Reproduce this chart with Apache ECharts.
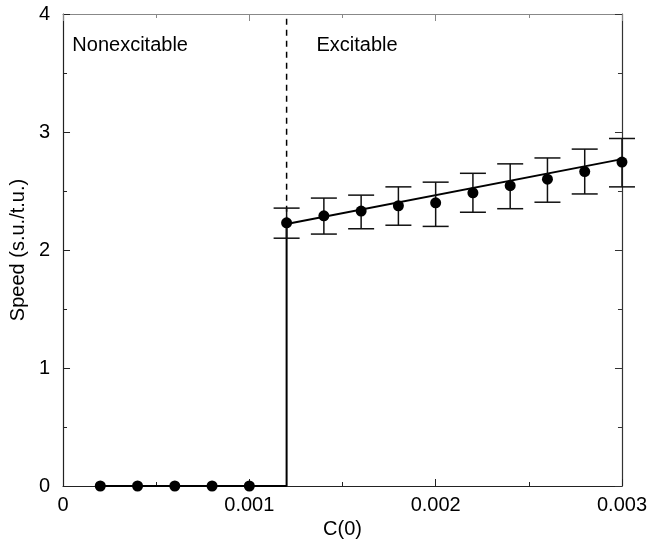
<!DOCTYPE html>
<html><head><meta charset="utf-8">
<script src="https://cdn.jsdelivr.net/npm/echarts@6/dist/echarts.min.js"></script>
<style>html,body{margin:0;padding:0;background:#fff}#c{width:650px;height:546px}</style>
</head><body><div id="c"></div>
<script>
// ---- data ----
const xNon = [0.0002, 0.0004, 0.0006, 0.0008, 0.0010];
const yNon = [0, 0, 0, 0, 0];
const xExc = [0.0012, 0.0014, 0.0016, 0.0018, 0.0020, 0.0022, 0.0024, 0.0026, 0.0028, 0.0030];
const yExc = [2.23, 2.29, 2.33, 2.375, 2.40, 2.485, 2.545, 2.60, 2.665, 2.745];
const errLow = [2.10, 2.135, 2.18, 2.21, 2.20, 2.32, 2.35, 2.405, 2.475, 2.535];
const errHigh = [2.355, 2.44, 2.465, 2.535, 2.575, 2.65, 2.73, 2.78, 2.855, 2.945];
const threshold = 0.0012;
const fitX = [0.0012, 0.0030];
const fitY = [2.22, 2.77];
const xTicks = [0, 0.001, 0.002, 0.003];
const yTicks = [0, 1, 2, 3, 4];
const annotations = [[0.00005, 3.73, 'Nonexcitable'], [0.00136, 3.73, 'Excitable']];

const FONT = '"Liberation Sans", Arial, Helvetica, sans-serif';
const chart = echarts.init(document.getElementById('c'));

const nonPts = xNon.map((x, i) => [x, yNon[i]]);
const excPts = xExc.map((x, i) => [x, yExc[i]]);
const errData = xExc.map((x, i) => [x, errLow[i], errHigh[i]]);
const stepLine = [[xNon[0], 0], [threshold, 0], [threshold, yExc[0]]];
const dashLine = [[threshold, yExc[0]], [threshold, yTicks[yTicks.length - 1]]];
const fitLine = fitX.map((x, i) => [x, fitY[i]]);

function axisCommon(show, color) {
  return {
    axisLine: { show: true, onZero: false, lineStyle: { color: color, width: 1.2 } },
    axisTick: { show: true, inside: true, length: 7, lineStyle: { color: color, width: 1 } },
    minorTick: { show: true, splitNumber: 2, length: 4, lineStyle: { color: color, width: 1 } },
    splitLine: { show: false },
    axisLabel: { show: show, color: '#000', fontSize: 20, fontFamily: FONT }
  };
}

const xMin = xTicks[0], xMax = xTicks[xTicks.length - 1];
const yMin = yTicks[0], yMax = yTicks[yTicks.length - 1];

chart.setOption({
  animation: false,
  backgroundColor: '#fff',
  grid: { left: 56, right: 26, top: 14, bottom: 60 },
  xAxis: [
    Object.assign({ type: 'value', min: xMin, max: xMax, interval: 0.001, position: 'bottom',
      name: 'C(0)', nameLocation: 'middle', nameGap: 33,
      nameTextStyle: { color: '#000', fontSize: 20, fontFamily: FONT } }, axisCommon(true, '#222'),
      { axisLabel: { show: true, color: '#000', fontSize: 20, fontFamily: FONT, margin: 9,
        formatter: v => v === 0 ? '0' : v.toFixed(3) } }),
    Object.assign({ type: 'value', min: xMin, max: xMax, interval: 0.001, position: 'top' }, axisCommon(false, '#888'))
  ],
  yAxis: [
    Object.assign({ type: 'value', min: yMin, max: yMax, interval: 1, position: 'left',
      name: 'Speed (s.u./t.u.)', nameLocation: 'middle', nameGap: 31,
      nameTextStyle: { color: '#000', fontSize: 20, fontFamily: FONT } }, axisCommon(true, '#222'),
      { axisLabel: { show: true, color: '#000', fontSize: 20, fontFamily: FONT, margin: 13 } }),
    Object.assign({ type: 'value', min: yMin, max: yMax, interval: 1, position: 'right' }, axisCommon(false, '#333'))
  ],
  series: [
    { type: 'line', data: stepLine, symbol: 'none', lineStyle: { color: '#000', width: 2 }, z: 3 },
    { type: 'line', data: dashLine, symbol: 'none', lineStyle: { color: '#000', width: 1.5, type: [6, 5] }, z: 3 },
    { type: 'line', data: fitLine, symbol: 'none', lineStyle: { color: '#000', width: 2 }, z: 3 },
    {
      type: 'custom', data: errData, z: 4,
      renderItem: function (params, api) {
        const x = api.value(0);
        const lo = api.coord([x, api.value(1)]);
        const hi = api.coord([x, api.value(2)]);
        const hw = 13;
        const st = { stroke: '#111', lineWidth: 1.5 };
        return { type: 'group', children: [
          { type: 'line', shape: { x1: lo[0], y1: lo[1], x2: hi[0], y2: hi[1] }, style: st },
          { type: 'line', shape: { x1: lo[0] - hw, y1: lo[1], x2: lo[0] + hw, y2: lo[1] }, style: st },
          { type: 'line', shape: { x1: hi[0] - hw, y1: hi[1], x2: hi[0] + hw, y2: hi[1] }, style: st }
        ] };
      }
    },
    { type: 'scatter', data: nonPts, symbol: 'circle', symbolSize: 11, itemStyle: { color: '#000', opacity: 1 }, z: 5 },
    { type: 'scatter', data: excPts, symbol: 'circle', symbolSize: 11, itemStyle: { color: '#000', opacity: 1 }, z: 5 },
    {
      type: 'scatter', data: annotations.map(a => ({ value: [a[0], a[1]], name: a[2] })),
      symbolSize: 0, silent: true, z: 6, itemStyle: { opacity: 1 },
      label: { show: true, position: 'right', distance: 0, formatter: p => p.name,
        color: '#000', fontSize: 20, fontFamily: FONT }
    }
  ]
});
</script>
</body></html>
